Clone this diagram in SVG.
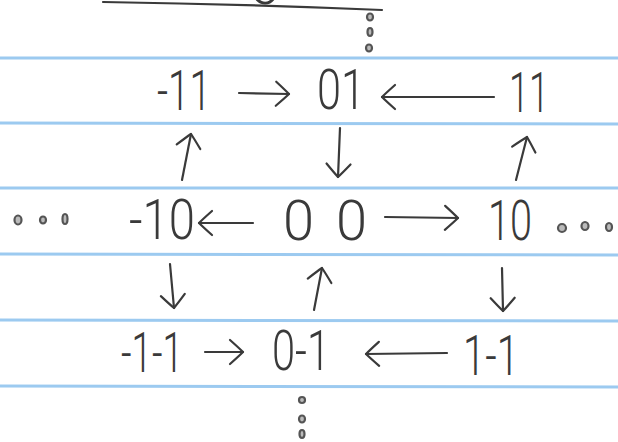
<svg xmlns="http://www.w3.org/2000/svg" width="618" height="442" viewBox="0 0 618 442">
<defs>
<style>
.rule{stroke:#9ccaf0;stroke-width:3;fill:none}
.ink{stroke:#3a3a3a;stroke-width:2.2;fill:none;stroke-linecap:round;stroke-linejoin:round}
.dot{stroke:#555;stroke-width:2.2;fill:#bbb}
.lbl{font-family:Roboto,"Liberation Sans",sans-serif;font-weight:300;font-size:56px;fill:#3a3a3a;text-anchor:middle}
</style>
<marker id="ah" viewBox="0 0 20 30" refX="17" refY="15" markerWidth="20" markerHeight="30" markerUnits="userSpaceOnUse" orient="auto">
<path d="M4,3 Q13,11 17,15 Q13,19 4,27" fill="none" stroke="#3a3a3a" stroke-width="2.2" stroke-linecap="round" stroke-linejoin="round"/>
</marker>
</defs>
<rect width="618" height="442" fill="#ffffff"/>
<g id="paper">
<line class="rule" x1="0" y1="58" x2="618" y2="58"/>
<line class="rule" x1="0" y1="123" x2="618" y2="124"/>
<line class="rule" x1="0" y1="188" x2="618" y2="188"/>
<line class="rule" x1="0" y1="254" x2="618" y2="255"/>
<line class="rule" x1="0" y1="320" x2="618" y2="321"/>
<line class="rule" x1="0" y1="386" x2="618" y2="387"/>
<path class="ink" d="M103,2 Q240,4 382,10"/>
<text class="lbl" x="265" y="4" font-size="34">0</text>
</g>
<g id="dots">
<ellipse class="dot" cx="370" cy="17" rx="3" ry="3.5"/>
<ellipse class="dot" cx="370" cy="32" rx="2.5" ry="4"/>
<ellipse class="dot" cx="369" cy="48" rx="3" ry="3.5"/>
<ellipse class="dot" cx="18" cy="220" rx="3.5" ry="4.5"/>
<ellipse class="dot" cx="43" cy="220" rx="3" ry="3.5"/>
<ellipse class="dot" cx="65" cy="219" rx="2.5" ry="5"/>
<ellipse class="dot" cx="562" cy="228" rx="4" ry="4"/>
<ellipse class="dot" cx="585" cy="226" rx="3.5" ry="4"/>
<ellipse class="dot" cx="609" cy="227" rx="3" ry="4"/>
<ellipse class="dot" cx="302" cy="400" rx="3" ry="3"/>
<ellipse class="dot" cx="302" cy="419" rx="3" ry="3.5"/>
<ellipse class="dot" cx="302" cy="434" rx="2.5" ry="4"/>
</g>
<g id="n-11"><text class="lbl" x="184" y="110" textLength="54" lengthAdjust="spacingAndGlyphs">-11</text></g>
<g id="n01"><text class="lbl" x="341" y="109" textLength="48" lengthAdjust="spacingAndGlyphs">01</text></g>
<g id="n11"><text class="lbl" x="529" y="112" textLength="40" lengthAdjust="spacingAndGlyphs">11</text></g>
<g id="n-10"><text class="lbl" x="162" y="239" textLength="66" lengthAdjust="spacingAndGlyphs">-10</text></g>
<g id="n00"><text class="lbl" x="325" y="240" textLength="84" lengthAdjust="spacing">00</text></g>
<g id="n10"><text class="lbl" x="510" y="240" textLength="44" lengthAdjust="spacingAndGlyphs">10</text></g>
<g id="n-1-1"><text class="lbl" x="152" y="372" textLength="62" lengthAdjust="spacingAndGlyphs">-1-1</text></g>
<g id="n0-1"><text class="lbl" x="301" y="370" textLength="58" lengthAdjust="spacingAndGlyphs">0-1</text></g>
<g id="n1-1"><text class="lbl" x="491" y="375" textLength="56" lengthAdjust="spacingAndGlyphs">1-1</text></g>
<g id="connectors">
<path class="ink" marker-end="url(#ah)" d="M239,93 L289,94"/>
<path class="ink" marker-end="url(#ah)" d="M494,97 L382,97"/>
<path class="ink" marker-end="url(#ah)" d="M182,180 L191,134"/>
<path class="ink" marker-end="url(#ah)" d="M340,128 L338,177"/>
<path class="ink" marker-end="url(#ah)" d="M516,180 L527,137"/>
<path class="ink" marker-end="url(#ah)" d="M253,223 L199,223"/>
<path class="ink" marker-end="url(#ah)" d="M385,217 L458,218"/>
<path class="ink" marker-end="url(#ah)" d="M170,264 L174,308"/>
<path class="ink" marker-end="url(#ah)" d="M314,310 L322,268"/>
<path class="ink" marker-end="url(#ah)" d="M502,268 L503,311"/>
<path class="ink" marker-end="url(#ah)" d="M205,352 L243,352"/>
<path class="ink" marker-end="url(#ah)" d="M447,353 L366,354"/>
</g>
</svg>
